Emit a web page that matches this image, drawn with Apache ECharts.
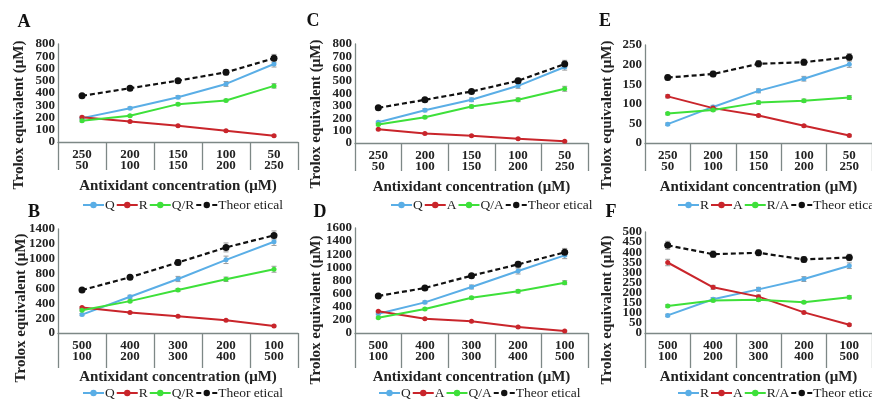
<!DOCTYPE html>
<html>
<head>
<meta charset="utf-8">
<script src="https://cdn.jsdelivr.net/npm/echarts@6/dist/echarts.min.js"></script>
<style>
  html, body { margin: 0; padding: 0; background: #fff; }
  #chart { width: 872px; height: 399px; }
</style>
</head>
<body>
<div id="chart"></div>
<script>
// Category labels: first / second antioxidant concentration (µM)
const catsLow = ['250\n50', '200\n100', '150\n150', '100\n200', '50\n250'];
const catsHigh = ['500\n100', '400\n200', '300\n300', '200\n400', '100\n500'];

// Y tick labels of each panel
const ticksA = [0, 100, 200, 300, 400, 500, 600, 700, 800];
const ticksB = [0, 200, 400, 600, 800, 1000, 1200, 1400];
const ticksC = [0, 100, 200, 300, 400, 500, 600, 700, 800];
const ticksD = [0, 200, 400, 600, 800, 1000, 1200, 1400, 1600];
const ticksE = [0, 50, 100, 150, 200, 250];
const ticksF = [0, 50, 100, 150, 200, 250, 300, 350, 400, 450, 500];

// Panel A: Q, R and the Q/R mixture
const aQ = [195, 276, 366, 474, 637];
const aR = [203, 168, 133, 92, 51];
const aQR = [173, 214, 309, 339, 458];
const aTheo = [377, 439, 501, 569, 683];
const aQErr = [8, 10, 12, 20, 25];
const aRErr = [8, 6, 6, 6, 6];
const aQRErr = [8, 8, 10, 10, 18];
const aTheoErr = [8, 10, 12, 22, 32];

// Panel B: Q, R and the Q/R mixture (higher doses)
const bQ = [248, 488, 727, 985, 1229];
const bR = [343, 276, 226, 172, 95];
const bQR = [307, 429, 578, 723, 858];
const bTheo = [578, 750, 949, 1152, 1314];
const bQErr = [15, 20, 35, 50, 50];
const bRErr = [12, 10, 10, 10, 10];
const bQRErr = [12, 15, 20, 30, 40];
const bTheoErr = [15, 20, 40, 60, 60];

// Panel C: Q, A and the Q/A mixture
const cQ = [168, 265, 349, 462, 614];
const cA = [111, 76, 59, 35, 14];
const cQA = [149, 208, 295, 349, 438];
const cTheo = [284, 349, 416, 503, 638];
const cQErr = [8, 12, 15, 20, 25];
const cAErr = [6, 6, 6, 6, 6];
const cQAErr = [8, 10, 12, 15, 20];
const cTheoErr = [8, 10, 15, 20, 30];

// Panel D: Q, A and the Q/A mixture (higher doses)
const dQ = [292, 467, 701, 944, 1183];
const dA = [330, 218, 178, 91, 30];
const dQA = [234, 366, 538, 635, 767];
const dTheo = [564, 686, 873, 1046, 1229];
const dQErr = [15, 20, 30, 45, 50];
const dAErr = [10, 10, 10, 10, 10];
const dQAErr = [12, 15, 20, 25, 30];
const dTheoErr = [15, 20, 30, 45, 60];

// Panel E: R, A and the R/A mixture
const eR = [48, 92, 133, 164, 201];
const eA = [119, 89, 70, 44, 19];
const eRA = [75, 84, 103, 108, 116];
const eTheo = [167, 176, 202, 206, 219];
const eRErr = [3, 4, 5, 6, 8];
const eAErr = [4, 3, 3, 3, 3];
const eRAErr = [3, 3, 4, 4, 5];
const eTheoErr = [6, 7, 8, 8, 9];

// Panel F: R, A and the R/A mixture (higher doses)
const fR = [87, 167, 216, 267, 333];
const fA = [349, 226, 180, 102, 41];
const fRA = [134, 161, 164, 152, 177];
const fTheo = [434, 390, 397, 364, 374];
const fRErr = [6, 8, 10, 12, 14];
const fAErr = [16, 10, 8, 6, 5];
const fRAErr = [6, 6, 6, 6, 8];
const fTheoErr = [20, 16, 14, 14, 16];

const SERIF = '"Liberation Serif", "DejaVu Serif", serif';
const BLUE = '#5aaee6';
const RED = '#c9252b';
const GREEN = '#3ee03a';
const BLACK = '#111111';
const AXIS = '#7d8886';
const INK = '#222222';
const THEO = 'Theor etical';

const panels = [
  { key: 'A', cats: catsLow, ticks: ticksA, tick: 28,
    grid: { left: 58, top: 44, width: 240, height: 98 },
    letter: [24, 22], ytitle: [19, 115], legend: { left: 82, top: 198 },
    lines: [['Q', aQ, aQErr, BLUE], ['R', aR, aRErr, RED], ['Q/R', aQR, aQRErr, GREEN], [THEO, aTheo, aTheoErr, BLACK]] },
  { key: 'C', cats: catsLow, ticks: ticksC, tick: 28,
    grid: { left: 355, top: 44, width: 233, height: 99 },
    letter: [313, 21], ytitle: [316, 114], legend: { left: 390, top: 198 },
    lines: [['Q', cQ, cQErr, BLUE], ['A', cA, cAErr, RED], ['Q/A', cQA, cQAErr, GREEN], [THEO, cTheo, cTheoErr, BLACK]] },
  { key: 'E', cats: catsLow, ticks: ticksE, tick: 28,
    grid: { left: 645, top: 45, width: 227, height: 98 },
    letter: [605, 21], ytitle: [607, 115], legend: { left: 677, top: 198 },
    lines: [['R', eR, eRErr, BLUE], ['A', eA, eAErr, RED], ['R/A', eRA, eRAErr, GREEN], [THEO, eTheo, eTheoErr, BLACK]] },
  { key: 'B', cats: catsHigh, ticks: ticksB, tick: 35,
    grid: { left: 58, top: 229, width: 240, height: 104 },
    letter: [34, 212], ytitle: [21, 308], legend: { left: 82, top: 386 },
    lines: [['Q', bQ, bQErr, BLUE], ['R', bR, bRErr, RED], ['Q/R', bQR, bQRErr, GREEN], [THEO, bTheo, bTheoErr, BLACK]] },
  { key: 'D', cats: catsHigh, ticks: ticksD, tick: 35,
    grid: { left: 355, top: 228, width: 233, height: 105 },
    letter: [320, 212], ytitle: [316, 310], legend: { left: 378, top: 386 },
    lines: [['Q', dQ, dQErr, BLUE], ['A', dA, dAErr, RED], ['Q/A', dQA, dQAErr, GREEN], [THEO, dTheo, dTheoErr, BLACK]] },
  { key: 'F', cats: catsHigh, ticks: ticksF, tick: 35,
    grid: { left: 645, top: 232, width: 227, height: 101 },
    letter: [611, 212], ytitle: [607, 310], legend: { left: 677, top: 386 },
    lines: [['R', fR, fRErr, BLUE], ['A', fA, fAErr, RED], ['R/A', fRA, fRAErr, GREEN], [THEO, fTheo, fTheoErr, BLACK]] }
];

const grids = [], xAxes = [], yAxes = [], series = [], legends = [], graphics = [];

function errorBarRender(params, api) {
  const x = api.value(0);
  const lo = api.coord([x, api.value(1)]);
  const hi = api.coord([x, api.value(2)]);
  const w = 2.5;
  const st = { stroke: '#9a9a9a', lineWidth: 1 };
  return {
    type: 'group',
    children: [
      { type: 'line', shape: { x1: lo[0], y1: lo[1], x2: hi[0], y2: hi[1] }, style: st },
      { type: 'line', shape: { x1: lo[0] - w, y1: lo[1], x2: lo[0] + w, y2: lo[1] }, style: st },
      { type: 'line', shape: { x1: hi[0] - w, y1: hi[1], x2: hi[0] + w, y2: hi[1] }, style: st }
    ]
  };
}

const yLabelStyle = {
  fontFamily: SERIF, fontWeight: 'bold', fontSize: 13, color: INK, margin: 3,
  showMinLabel: true, showMaxLabel: true, hideOverlap: false,
  formatter: v => String(v)
};

panels.forEach((p, i) => {
  const max = p.ticks[p.ticks.length - 1];
  const step = p.ticks[1] - p.ticks[0];
  grids.push(Object.assign({ containLabel: false }, p.grid));
  xAxes.push({
    type: 'category', gridIndex: i, data: p.cats, boundaryGap: true,
    axisLine: { lineStyle: { color: AXIS, width: 1.3 } },
    axisTick: { show: true, length: p.tick, alignWithLabel: false, lineStyle: { color: AXIS, width: 1.3 } },
    axisLabel: { interval: 0, hideOverlap: false, fontFamily: SERIF, fontWeight: 'bold', fontSize: 13, lineHeight: 11, color: INK, margin: 7 },
    name: 'Antixidant concentration (μM)', nameLocation: 'middle', nameGap: 37,
    nameTextStyle: { fontFamily: SERIF, fontWeight: 'bold', fontSize: 15, color: INK }
  });
  // The tick labels sit close together, so every other one is carried by a twin axis
  const evenTicks = p.ticks.filter((t, k) => k % 2 === 0);
  const oddTicks = p.ticks.filter((t, k) => k % 2 === 1);
  yAxes.push({
    type: 'value', gridIndex: i, min: 0, max: max, interval: step, position: 'left',
    axisLine: { show: true, lineStyle: { color: AXIS, width: 1.3 } },
    axisTick: { show: false }, splitLine: { show: false },
    axisLabel: Object.assign({ customValues: evenTicks }, yLabelStyle)
  });
  yAxes.push({
    type: 'value', gridIndex: i, min: 0, max: max, interval: step, position: 'left', offset: 0,
    axisLine: { show: false }, axisTick: { show: false }, splitLine: { show: false },
    axisLabel: Object.assign({ customValues: oddTicks }, yLabelStyle)
  });
  const names = [];
  p.lines.forEach(([name, vals, errs, color]) => {
    const isTheo = name === THEO;
    const sname = p.key + '|' + name;
    names.push(sname);
    series.push({
      type: 'custom', xAxisIndex: i, yAxisIndex: 2 * i, silent: true, z: 2,
      renderItem: errorBarRender,
      encode: { x: 0, y: [1, 2] },
      data: vals.map((v, j) => [j, v - errs[j], v + errs[j]])
    });
    series.push({
      type: 'line', name: sname, xAxisIndex: i, yAxisIndex: 2 * i, data: vals,
      symbol: 'circle', symbolSize: isTheo ? 7 : 5, showSymbol: true,
      lineStyle: { color: color, width: isTheo ? 2.2 : 2, type: isTheo ? [5, 3] : 'solid' },
      itemStyle: { color: color }, z: isTheo ? 5 : 4
    });
  });
  legends.push({
    left: p.legend.left, top: p.legend.top, width: 400, padding: 0, orient: 'horizontal',
    itemWidth: 21, itemHeight: 8, itemGap: 1, data: names,
    formatter: n => n.split('|')[1],
    textStyle: { fontFamily: SERIF, fontSize: 13.5, color: INK, padding: [0, 0, 0, -4] }
  });
  graphics.push({
    type: 'text', x: p.letter[0], y: p.letter[1],
    style: { text: p.key, fontFamily: SERIF, fontWeight: 'bold', fontSize: 18, fill: '#111', align: 'center', verticalAlign: 'middle' }
  });
  graphics.push({
    type: 'text', x: p.ytitle[0], y: p.ytitle[1], rotation: Math.PI / 2,
    style: { text: 'Trolox equivalent (μM)', fontFamily: SERIF, fontWeight: 'bold', fontSize: 15, fill: INK, align: 'center', verticalAlign: 'middle' }
  });
});

const chart = echarts.init(document.getElementById('chart'), null, { renderer: 'canvas' });
chart.setOption({
  animation: false,
  backgroundColor: '#fff',
  grid: grids, xAxis: xAxes, yAxis: yAxes,
  legend: legends, series: series, graphic: graphics
});
</script>
</body>
</html>
